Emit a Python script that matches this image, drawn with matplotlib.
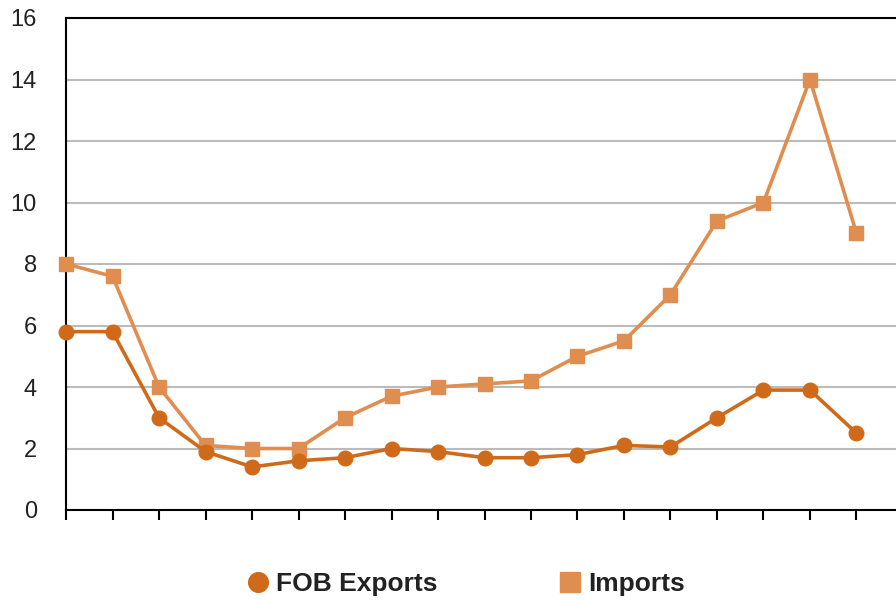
import numpy as np
import matplotlib.pyplot as plt

plt.rcParams['font.family'] = ['Liberation Sans', 'DejaVu Sans']

# 数据
x_idx = np.arange(18)
fob_exports = [5.8, 5.8, 3.0, 1.9, 1.4, 1.6, 1.7, 2.0, 1.9, 1.7, 1.7, 1.8, 2.1, 2.05, 3.0, 3.9, 3.9, 2.5]
imports = [8.0, 7.6, 4.0, 2.1, 2.0, 2.0, 3.0, 3.7, 4.0, 4.1, 4.2, 5.0, 5.5, 7.0, 9.4, 10.0, 14.0, 9.0]
y_ticks = [0, 2, 4, 6, 8, 10, 12, 14, 16]

exp_color = '#D06A1B'
imp_color = '#E08E50'

fig = plt.figure(figsize=(8.96, 6), dpi=100)
ax = fig.add_axes([0.0737, 0.15, 0.9263, 0.82])

ax.plot(x_idx, imports, color=imp_color, linewidth=2.6, marker='s', markersize=10.5,
        label='Imports', zorder=3, clip_on=False)
ax.plot(x_idx, fob_exports, color=exp_color, linewidth=2.6, marker='o', markersize=10.5,
        label='FOB Exports', zorder=4, clip_on=False)

ax.set_ylim(0, 16)
ax.set_xlim(0, 17.85)
ax.set_yticks(y_ticks)
ax.set_xticks(x_idx)
ax.set_xticklabels([])
ax.tick_params(axis='y', length=0, labelsize=17, pad=21, labelcolor='#222222')
ax.tick_params(axis='x', direction='out', length=7, width=1.5, color='black')
ax.yaxis.grid(True, color='#BBBBBB', linewidth=1.5)
ax.set_axisbelow(True)

for side in ['left', 'bottom', 'top']:
    ax.spines[side].set_color('black')
    ax.spines[side].set_linewidth(1.5)
ax.spines['right'].set_visible(False)
ax.spines['bottom'].set_zorder(5)

handles, labels = ax.get_legend_handles_labels()
leg = fig.legend(handles[::-1], labels[::-1], loc='center', bbox_to_anchor=(0.52, 0.027),
                 ncol=2, frameon=False, columnspacing=4.6, handlelength=0.8,
                 handletextpad=0.3, markerscale=1.35, prop={'weight': 'bold', 'size': 19})
for h in leg.legend_handles:
    h.set_linestyle('None')
for t in leg.get_texts():
    t.set_color('#222222')

fig.savefig('out.png', dpi=100)
